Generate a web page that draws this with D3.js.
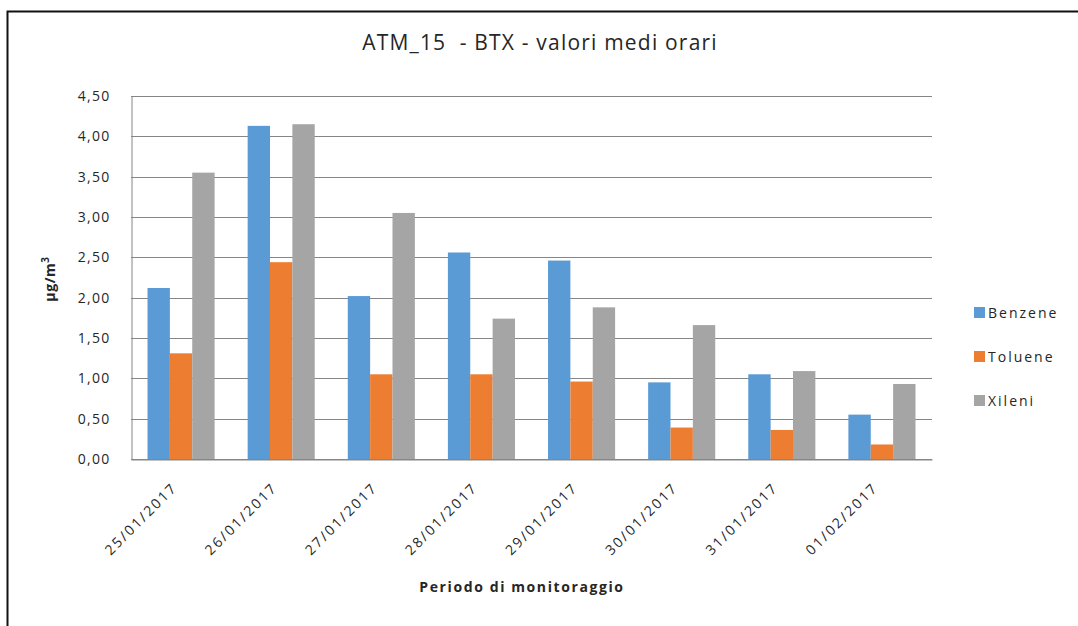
<!DOCTYPE html>
<html>
<head>
<meta charset="utf-8">
<script src="https://cdn.jsdelivr.net/npm/d3@7"></script>
<style>
body { margin: 0; background: #fff; }
text { font-family: "Open Sans", sans-serif; fill: #262626; }
</style>
</head>
<body>
<div id="chart"></div>
<script>
var dates = ["25/01/2017", "26/01/2017", "27/01/2017", "28/01/2017",
             "29/01/2017", "30/01/2017", "31/01/2017", "01/02/2017"];
var seriesNames = ["Benzene", "Toluene", "Xileni"];
var benzene = [2.12, 4.13, 2.02, 2.56, 2.46, 0.95, 1.05, 0.55];
var toluene = [1.31, 2.44, 1.05, 1.05, 0.96, 0.39, 0.36, 0.18];
var xileni  = [3.55, 4.15, 3.05, 1.74, 1.88, 1.66, 1.09, 0.93];
var yTicks = [0, 0.5, 1, 1.5, 2, 2.5, 3, 3.5, 4, 4.5];
var colors = ["#5b9bd5", "#ed7d31", "#a5a5a5"];

var W = 1078, H = 626;
var pLeft = 131, pRight = 932, pTop = 96, pBottom = 459;

var svg = d3.select("#chart").append("svg")
    .attr("width", W).attr("height", H);

// frame
svg.append("rect")
    .attr("x", 7.5).attr("y", 11.5)
    .attr("width", W + 20).attr("height", H + 20)
    .attr("fill", "none").attr("stroke", "#111").attr("stroke-width", 2);

var x0 = d3.scaleBand().domain(dates).range([pLeft, pRight])
    .paddingInner(0.33).paddingOuter(0.165);
var x1 = d3.scaleBand().domain(seriesNames).range([0, x0.bandwidth()]);
var y = d3.scaleLinear().domain([0, 4.5]).range([pBottom, pTop]);

var fmt = function(d) { return d3.format(".2f")(d).replace(".", ","); };

// grid
svg.append("g").selectAll("line")
    .data(yTicks)
    .enter().append("line")
    .attr("x1", pLeft).attr("x2", pRight)
    .attr("y1", function(d) { return Math.round(y(d)) + 0.5; })
    .attr("y2", function(d) { return Math.round(y(d)) + 0.5; })
    .attr("stroke", "#868686").attr("stroke-width", 1);

// y axis
var yAxis = svg.append("g")
    .attr("transform", "translate(" + (pLeft + 0.5) + ",0)")
    .call(d3.axisLeft(y).tickValues(yTicks).tickFormat(fmt).tickSize(0).tickPadding(21));
yAxis.select(".domain").attr("stroke", "#868686");
yAxis.selectAll("text").style("font-size", "14px")
    .style("font-family", "'Open Sans', sans-serif").style("letter-spacing", "1.3px")
    .attr("fill", "#333");

// bars
var all = [benzene, toluene, xileni];
var groups = svg.append("g").selectAll("g")
    .data(dates)
    .enter().append("g")
    .attr("transform", function(d) { return "translate(" + x0(d) + ",0)"; });

groups.selectAll("rect")
    .data(function(d, i) {
        return seriesNames.map(function(s, k) { return {s: s, k: k, v: all[k][i]}; });
    })
    .enter().append("rect")
    .attr("x", function(d) { return x1(d.s); })
    .attr("width", x1.bandwidth())
    .attr("y", function(d) { return y(d.v); })
    .attr("height", function(d) { return pBottom - y(d.v); })
    .attr("fill", function(d) { return colors[d.k]; });

// x axis
var xAxis = svg.append("g")
    .attr("transform", "translate(0," + (pBottom + 0.5) + ")")
    .call(d3.axisBottom(x0).tickSize(0).tickPadding(0));
xAxis.select(".domain").attr("stroke", "#868686");
xAxis.selectAll("text")
    .style("font-size", "14px").style("font-family", "'Open Sans', sans-serif")
    .style("letter-spacing", "2.1px")
    .attr("fill", "#333")
    .attr("text-anchor", "end")
    .attr("dy", 0)
    .attr("transform", "translate(-3,29) rotate(-45)");

// title
svg.append("text")
    .attr("x", 540).attr("y", 50)
    .attr("text-anchor", "middle")
    .attr("xml:space", "preserve")
    .style("white-space", "pre")
    .style("font-size", "21px").style("letter-spacing", "1.2px")
    .attr("fill", "#111")
    .text("ATM_15  - BTX - valori medi orari");

// axis titles
svg.append("text")
    .attr("x", 522).attr("y", 592)
    .attr("text-anchor", "middle")
    .style("font-size", "14px").style("font-weight", "bold").style("letter-spacing", "1.6px")
    .text("Periodo di monitoraggio");

var yt = svg.append("text")
    .attr("transform", "translate(55,279) rotate(-90)")
    .attr("text-anchor", "middle")
    .style("font-size", "14px").style("font-weight", "bold").style("letter-spacing", "0.6px");
yt.append("tspan").text("µg/m");
yt.append("tspan").attr("dy", -6).style("font-size", "10px").text("3");

// legend
var legend = svg.append("g").selectAll("g")
    .data(seriesNames)
    .enter().append("g")
    .attr("transform", function(d, i) { return "translate(974," + (307 + i * 44) + ")"; });
legend.append("rect")
    .attr("width", 11).attr("height", 11)
    .attr("fill", function(d, i) { return colors[i]; });
legend.append("text")
    .attr("x", 14).attr("y", 11)
    .style("font-size", "14px").style("letter-spacing", "2px")
    .text(function(d) { return d; });
</script>
</body>
</html>
